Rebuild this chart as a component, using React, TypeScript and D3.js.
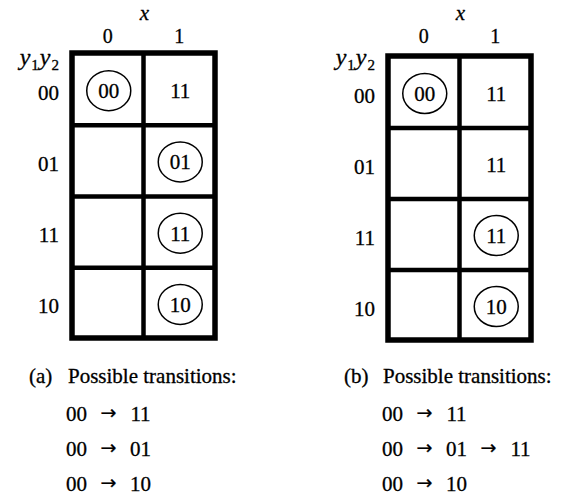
import React from "react";
import * as d3 from "d3";

const columns = ["0", "1"];
const rows = ["00", "01", "11", "10"];

const cellsA = [["00", "11"], ["", "01"], ["", "11"], ["", "10"]];
const circledA = [[true, false], [false, true], [false, true], [false, true]];
const cellsB = [["00", "11"], ["", "11"], ["", "11"], ["", "10"]];
const circledB = [[true, false], [false, false], [false, true], [false, true]];

const captions = ["(a)", "(b)"];
const captionText = "Possible transitions:";
const transitionsA = [["00", "11"], ["00", "01"], ["00", "10"]];
const transitionsB = [["00", "11"], ["00", "01", "11"], ["00", "10"]];

const FONT = "'Liberation Serif', 'DejaVu Serif', serif";
const INK = { fill: "#000", stroke: "#000", strokeWidth: 0.3 };

type PanelProps = {
  x0: number; x1: number; y0: number; y1: number;
  cells: string[][]; circled: boolean[][];
  caption: string; transitions: string[][];
  capX: number; textX: number;
};

function Panel({ x0, x1, y0, y1, cells, circled, caption, transitions, capX, textX }: PanelProps) {
  const xs = d3.scaleBand<string>().domain(columns).range([x0, x1]);
  const ys = d3.scaleBand<string>().domain(rows).range([y0, y1]);
  const bw = xs.bandwidth();
  const bh = ys.bandwidth();
  const mid = xs("1")!;
  const labelX = x0 - 13;
  const tokenStep = 64;
  const lineY = d3.scaleLinear().domain([0, 1]).range([421, 456]);
  return (
    <g>
      {/* header */}
      <text x={mid + 1} y={20} fontFamily={FONT} fontStyle="italic" fontSize={21} textAnchor="middle" {...INK}>x</text>
      {columns.map((c) => (
        <text key={c} x={xs(c)! + bw / 2} y={43} fontFamily={FONT} fontSize={20} textAnchor="middle" {...INK}>{c}</text>
      ))}
      <text x={labelX} y={65} fontFamily={FONT} fontSize={24} textAnchor="end" {...INK}>
        <tspan fontStyle="italic">y</tspan>
        <tspan fontSize={15} dy={5} dx={1}>1</tspan>
        <tspan fontStyle="italic" dy={-5} dx={1}>y</tspan>
        <tspan fontSize={15} dy={5} dx={1}>2</tspan>
      </text>
      {rows.map((r) => (
        <text key={r} x={labelX} y={ys(r)! + bh / 2 + 11} fontFamily={FONT} fontSize={21} textAnchor="end" {...INK}>{r}</text>
      ))}
      {/* cells */}
      {rows.map((r, i) =>
        columns.map((c, j) => {
          const cx = xs(c)! + bw / 2 + 1;
          const cy = ys(r)! + bh / 2 + 2;
          return (
            <g key={r + c}>
              {circled[i][j] && (
                <ellipse cx={cx} cy={cy} rx={22} ry={20} fill="none" stroke="#000" strokeWidth={1.5} />
              )}
              {cells[i][j] && (
                <text x={cx} y={cy + 7.5} fontFamily={FONT} fontSize={21} textAnchor="middle" {...INK}>{cells[i][j]}</text>
              )}
            </g>
          );
        })
      )}
      {/* grid */}
      {rows.slice(1).map((r) => (
        <line key={r} x1={x0} x2={x1} y1={ys(r)! + 1} y2={ys(r)! + 1} stroke="#000" strokeWidth={4.5} />
      ))}
      <line x1={mid} x2={mid} y1={y0} y2={y1} stroke="#000" strokeWidth={4.5} />
      <rect x={x0} y={y0} width={x1 - x0} height={y1 - y0} fill="none" stroke="#000" strokeWidth={5.5} />
      {/* caption */}
      <text x={capX} y={383} fontFamily={FONT} fontSize={21} {...INK}>{caption}</text>
      <text x={capX + 39} y={383} fontFamily={FONT} fontSize={21} {...INK}>{captionText}</text>
      {transitions.map((t, li) => (
        <g key={li}>
          {t.map((tok, k) => (
            <g key={k}>
              {k > 0 && (
                <text x={textX + k * tokenStep - tokenStep / 2} y={lineY(li) - 2} fontFamily="'DejaVu Sans', sans-serif" fontSize={19} textAnchor="middle" {...INK}>→</text>
              )}
              <text x={textX + k * tokenStep} y={lineY(li)} fontFamily={FONT} fontSize={21} textAnchor="middle" {...INK}>{tok}</text>
            </g>
          ))}
        </g>
      ))}
    </g>
  );
}

export default function App() {
  return (
    <svg width={569} height={498} style={{ position: "absolute", left: 0, top: 0, background: "#fff" }}>
      <rect width={569} height={498} fill="#fff" />
      <Panel x0={72} x1={215} y0={53} y1={338} cells={cellsA} circled={circledA}
        caption={captions[0]} transitions={transitionsA} capX={29} textX={76.5} />
      <Panel x0={388} x1={531} y0={56} y1={340} cells={cellsB} circled={circledB}
        caption={captions[1]} transitions={transitionsB} capX={344} textX={392.5} />
    </svg>
  );
}
